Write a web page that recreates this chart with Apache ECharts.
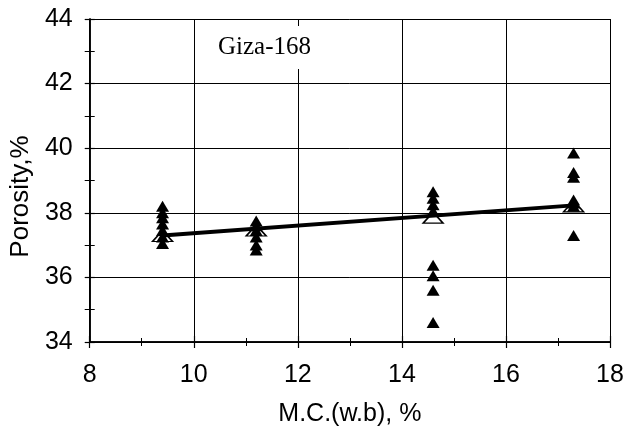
<!DOCTYPE html>
<html>
<head>
<meta charset="utf-8">
<script src="https://cdn.jsdelivr.net/npm/echarts@6/dist/echarts.min.js"></script>
<style>
  html, body { margin: 0; padding: 0; background: #fff; }
  #chart { width: 629px; height: 432px; }
</style>
</head>
<body>
<div id="chart"></div>
<script>
// Moisture content levels (% w.b.) at which porosity was measured
const mcLevels = [9.4, 11.2, 14.6, 17.3];

// Individual porosity readings (%) at each moisture level
const porosityAt94 = [38.2, 38.0, 37.85, 37.65, 37.45, 37.25, 37.05];
const porosityAt112 = [37.75, 37.6, 37.45, 37.25, 37.0, 36.85];
const porosityAt146 = [38.65, 38.45, 38.25, 38.05, 36.38, 36.05, 35.6, 34.6];
const porosityAt173 = [39.85, 39.25, 39.1, 38.4, 38.3, 38.2, 37.3];

// Average porosity per moisture level
const porosityMean = [37.28, 37.45, 37.85, 38.2];

// Fitted trend line end points
const trendX = [9.4, 17.3];
const trendY = [37.3, 38.23];

// Axis tick values
const xTicks = [8, 10, 12, 14, 16, 18];
const yTicks = [34, 36, 38, 40, 42, 44];

const readingGroups = [porosityAt94, porosityAt112, porosityAt146, porosityAt173];
const readings = [];
readingGroups.forEach((group, i) => {
  group.forEach(v => readings.push([mcLevels[i], v]));
});
const means = mcLevels.map((x, i) => [x, porosityMean[i]]);
const trend = trendX.map((x, i) => [x, trendY[i]]);

const sans = "'Liberation Sans', Arial, sans-serif";
const serif = "'Liberation Serif', 'Times New Roman', serif";

const baseX = {
  type: 'value',
  min: xTicks[0],
  max: xTicks[xTicks.length - 1],
  interval: 2,
  position: 'bottom',
  axisLine: { show: true, lineStyle: { color: '#000', width: 1.5 } },
  minorTick: { show: true, splitNumber: 2, length: 4, lineStyle: { color: '#000', width: 1 } },
  axisTick: { show: true, length: 6, lineStyle: { color: '#000', width: 1.2 } }
};
const baseY = {
  type: 'value',
  min: yTicks[0],
  max: yTicks[yTicks.length - 1],
  interval: 2,
  position: 'left',
  axisLine: { show: true, lineStyle: { color: '#000', width: 1.5 } },
  minorTick: { show: true, splitNumber: 2, length: 5, lineStyle: { color: '#000', width: 1 } },
  axisTick: { show: true, length: 5, lineStyle: { color: '#000', width: 1.2 } }
};

const chart = echarts.init(document.getElementById('chart'), null, { renderer: 'canvas' });
chart.setOption({
  animation: false,
  backgroundColor: '#fff',
  title: {
    text: 'Giza-168',
    left: 206,
    top: 26,
    padding: [9, 12, 9, 12],
    backgroundColor: '#fff',
    textStyle: { fontFamily: serif, fontSize: 25, fontWeight: 'normal', color: '#000' }
  },
  grid: { left: 81, right: 19, top: 19, bottom: 90 },
  xAxis: [
    Object.assign({}, baseX, {
      name: 'M.C.(w.b), %',
      nameLocation: 'middle',
      nameGap: 60,
      nameTextStyle: { fontFamily: sans, fontSize: 25, color: '#000' },
      axisLabel: { fontFamily: sans, fontSize: 25, color: '#000', margin: 21 },
      splitLine: { show: true, lineStyle: { color: '#000', width: 1 } }
    }),
    Object.assign({}, baseX, {
      axisLabel: { show: false },
      splitLine: { show: false },
      axisTick: Object.assign({}, baseX.axisTick, { inside: true }),
      minorTick: Object.assign({}, baseX.minorTick)
    })
  ],
  yAxis: [
    Object.assign({}, baseY, {
      name: 'Porosity,%',
      nameLocation: 'middle',
      nameGap: 45,
      nameTextStyle: { fontFamily: sans, fontSize: 26, color: '#000', padding: [0, 32, 0, 0] },
      axisLabel: { fontFamily: sans, fontSize: 25, color: '#000', margin: 17 },
      splitLine: { show: true, lineStyle: { color: '#000', width: 1 } }
    }),
    Object.assign({}, baseY, {
      axisLabel: { show: false },
      splitLine: { show: false },
      axisTick: Object.assign({}, baseY.axisTick, { inside: true })
    })
  ],
  series: [
    {
      name: 'Mean',
      type: 'scatter',
      data: means,
      symbol: 'triangle',
      symbolSize: [20, 11],
      itemStyle: { color: '#fff', borderColor: '#000', borderWidth: 1.5, opacity: 1 },
      z: 3
    },
    {
      name: 'Trend',
      type: 'line',
      data: trend,
      symbol: 'none',
      lineStyle: { color: '#000', width: 4 },
      z: 4
    },
    {
      name: 'Readings',
      type: 'scatter',
      data: readings,
      symbol: 'triangle',
      symbolSize: [13, 11],
      itemStyle: { color: '#000', opacity: 1 },
      z: 5
    }
  ]
});
</script>
</body>
</html>
